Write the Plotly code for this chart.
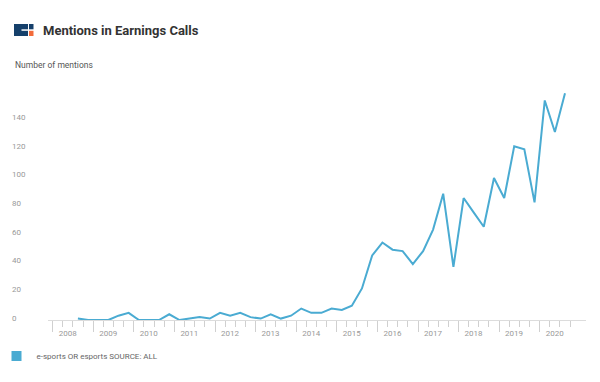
import datetime as dt
import plotly.graph_objects as go

# ---- data (quarterly mentions) ----
quarters = [
    "2008-Q3", "2008-Q4",
    "2009-Q1", "2009-Q2", "2009-Q3", "2009-Q4",
    "2010-Q1", "2010-Q2", "2010-Q3", "2010-Q4",
    "2011-Q1", "2011-Q2", "2011-Q3", "2011-Q4",
    "2012-Q1", "2012-Q2", "2012-Q3", "2012-Q4",
    "2013-Q1", "2013-Q2", "2013-Q3", "2013-Q4",
    "2014-Q1", "2014-Q2", "2014-Q3", "2014-Q4",
    "2015-Q1", "2015-Q2", "2015-Q3", "2015-Q4",
    "2016-Q1", "2016-Q2", "2016-Q3", "2016-Q4",
    "2017-Q1", "2017-Q2", "2017-Q3", "2017-Q4",
    "2018-Q1", "2018-Q2", "2018-Q3", "2018-Q4",
    "2019-Q1", "2019-Q2", "2019-Q3", "2019-Q4",
    "2020-Q1", "2020-Q2", "2020-Q3",
]
mentions = [
    1, 0,
    0, 0, 3, 5,
    0, 0, 0, 4,
    0, 1, 2, 1,
    5, 3, 5, 2,
    1, 4, 1, 3,
    8, 5, 5, 8,
    7, 10, 22, 45,
    54, 49, 48, 39,
    48, 63, 88, 37,
    85, 75, 65, 99,
    85, 121, 119, 82,
    153, 131, 158,
]
year_labels = ["2008", "2009", "2010", "2011", "2012", "2013", "2014",
               "2015", "2016", "2017", "2018", "2019", "2020"]
y_ticks = [0, 20, 40, 60, 80, 100, 120, 140]
series_name = "e-sports OR esports SOURCE: ALL"
title_text = "Mentions in Earnings Calls"
y_title = "Number of mentions"

LINE_COLOR = "#4aabd2"
W, H = 600, 382
ML, MR, MT, MB = 8, 14, 76, 62


def mid_quarter(q):
    y, qq = q.split("-Q")
    start = dt.date(int(y), 3 * (int(qq) - 1) + 1, 1)
    return start + dt.timedelta(days=45)


xdates = [mid_quarter(q) for q in quarters]
year_starts = [dt.date(int(y), 1, 1) for y in year_labels]
quarter_starts = [dt.date(int(y), m, 1) for y in year_labels for m in (4, 7, 10)]
label_pos = [dt.date(int(y), 5, 15) for y in year_labels]

x_range = [dt.date(2007, 11, 20), dt.date(2021, 2, 20)]

fig = go.Figure()
fig.add_trace(go.Scatter(
    x=xdates, y=mentions, mode="lines", name=series_name,
    line=dict(color=LINE_COLOR, width=2), showlegend=False,
    hovertemplate="%{x|%Y Q%q}: %{y}<extra></extra>",
))
# legend entry (square swatch)
fig.add_trace(go.Scatter(
    x=[None], y=[None], mode="markers", name=series_name,
    marker=dict(symbol="square", size=10, color=LINE_COLOR),
    showlegend=True,
))
# overlay axis carrying the year labels
fig.add_trace(go.Scatter(x=[x_range[0]], y=[0], xaxis="x2", mode="markers",
                         marker=dict(opacity=0), showlegend=False, hoverinfo="skip"))

pw = W - ML - MR
ph = H - MT - MB
x0_dom = (48 - ML) / pw

fig.update_layout(
    width=W, height=H,
    margin=dict(l=ML, r=MR, t=MT, b=MB, autoexpand=False),
    paper_bgcolor="white", plot_bgcolor="white",
    font=dict(family="Roboto, sans-serif", color="#999"),
    title=dict(text="<b>" + title_text + "</b>", xref="container", yref="container",
               x=43 / W, xanchor="left", y=1 - 30 / H, yanchor="middle",
               font=dict(size=13, color="#333", family="Roboto, sans-serif")),
    xaxis=dict(
        domain=[x0_dom, 1], range=x_range, type="date",
        showgrid=False, zeroline=False,
        showline=True, linecolor="#dcdcdc", linewidth=1,
        tickmode="array", tickvals=year_starts, showticklabels=False,
        ticks="outside", ticklen=11, tickcolor="#d0d0d0", tickwidth=1,
        minor=dict(tickmode="array", tickvals=quarter_starts, ticks="outside",
                   ticklen=6, tickcolor="#d0d0d0", tickwidth=1, showgrid=False),
        fixedrange=True, automargin=False,
    ),
    xaxis2=dict(
        domain=[x0_dom, 1], range=x_range, type="date", overlaying="x",
        anchor="y", side="bottom",
        showgrid=False, zeroline=False, showline=False,
        tickmode="array", tickvals=label_pos, ticktext=year_labels,
        ticks="outside", ticklen=5, tickcolor="rgba(0,0,0,0)",
        tickfont=dict(size=8, color="#999"), automargin=False,
    ),
    yaxis=dict(
        range=[0, ph / 1.435], anchor="free", position=0,
        showgrid=False, zeroline=False, showline=False,
        tickmode="array", tickvals=y_ticks, ticks="",
        ticklabelposition="inside", ticklabelshift=-2, ticklabeloverflow="allow",
        tickfont=dict(size=8, color="#999"),
        fixedrange=True, automargin=False,
    ),
    legend=dict(orientation="h", x=(-3.5 - ML) / pw, xanchor="left", y=(320 - 356) / ph,
                yanchor="middle", font=dict(size=8, color="#666"),
                bgcolor="rgba(0,0,0,0)"),
    showlegend=True,
)

fig.add_annotation(
    text=y_title, xref="paper", yref="paper",
    x=(14 - ML) / pw, xanchor="left", y=(320 - 65) / ph, yanchor="middle",
    showarrow=False, xshift=-1,
    font=dict(size=8.5, color="#555", family="Roboto, sans-serif"),
)


# logo (pixel coords -> paper)
def px(x):
    return (x - ML) / pw


def py(y):
    return (H - MB - y) / ph


NAVY = "#15406b"
ORANGE = "#f26b3a"
logo = [
    (14, 24, 28, 36, NAVY),
    (21.5, 29.3, 28, 30.8, "white"),
    (29, 24, 33.5, 29.3, NAVY),
    (29, 30.8, 33.5, 36, ORANGE),
]
for x0, y0, x1, y1, c in logo:
    fig.add_shape(type="rect", xref="paper", yref="paper",
                  x0=px(x0), x1=px(x1), y0=py(y1), y1=py(y0),
                  fillcolor=c, line=dict(width=0), layer="above")

fig.write_html("out.html", config={"displayModeBar": False},
               post_script="document.body.style.margin='0';document.body.style.padding='0';")
